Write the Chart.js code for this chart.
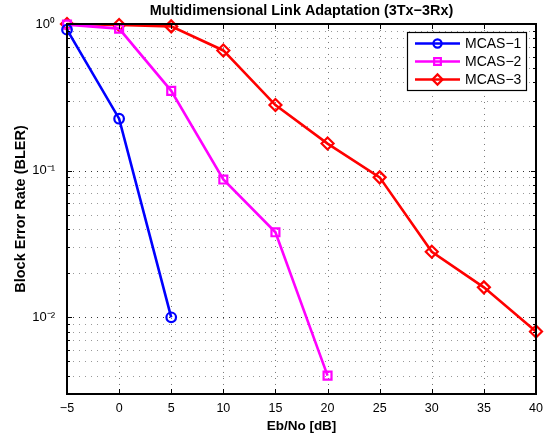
<!DOCTYPE html>
<html>
<head>
<meta charset="utf-8">
<script src="https://cdn.jsdelivr.net/npm/chart.js@4/dist/chart.umd.min.js"></script>
<style>
html,body{margin:0;padding:0;background:#fff;}
#wrap{width:553px;height:439px;}
</style>
</head>
<body>
<div id="wrap"><canvas id="c" width="553" height="439"></canvas></div>
<script>
// ---- data ----
const xValues = [-5, 0, 5, 10, 15, 20, 25, 30, 35, 40];
const seriesNames = ['MCAS\u22121', 'MCAS\u22122', 'MCAS\u22123'];
const mcas1 = [0.915, 0.226, 0.0100];
const mcas2 = [0.99, 0.93, 0.35, 0.087, 0.038, 0.0040];
const mcas3 = [1.0, 0.985, 0.963, 0.66, 0.28, 0.153, 0.090, 0.028, 0.016, 0.0080];
const xTickValues = [-5, 0, 5, 10, 15, 20, 25, 30, 35, 40];
const yTickValues = [0.003,0.004,0.005,0.006,0.007,0.008,0.009,
  0.01,0.02,0.03,0.04,0.05,0.06,0.07,0.08,0.09,
  0.1,0.2,0.3,0.4,0.5,0.6,0.7,0.8,0.9,1];
const yMajorLabels = {'1':'10\u2070','0.1':'10\u207B\u00B9','0.01':'10\u207B\u00B2'};

function pts(vals){ return vals.map((v,i)=>({x:xValues[i], y:v})); }

const FONT = "'Liberation Sans', Arial, Helvetica, sans-serif";

// draws dotted grid, frame and inward ticks (MATLAB style)
const matlabAxes = {
  id:'matlabAxes',
  afterLayout(chart){
    const t = chart.titleBlock, a = chart.chartArea;
    if (t && a) { t.left = a.left; t.right = a.right; t.width = a.right - a.left; }
  },
  beforeDatasetsDraw(chart){
    const {ctx, chartArea:a, scales:{x,y}} = chart;
    ctx.save();
    ctx.lineWidth = 1;
    ctx.setLineDash([1,5]);
    yTickValues.forEach(v=>{
      const py = Math.round(y.getPixelForValue(v))+0.5;
      const major = Math.abs(Math.log10(v)-Math.round(Math.log10(v)))<1e-9;
      ctx.strokeStyle = major ? '#333' : '#999';
      ctx.beginPath(); ctx.moveTo(a.left, py); ctx.lineTo(a.right, py); ctx.stroke();
    });
    ctx.strokeStyle = '#777';
    xTickValues.forEach(v=>{
      const px = Math.round(x.getPixelForValue(v))+0.5;
      ctx.beginPath(); ctx.moveTo(px, a.top); ctx.lineTo(px, a.bottom); ctx.stroke();
    });
    ctx.restore();
  },
  afterDatasetsDraw(chart){
    const {ctx, chartArea:a, scales:{x,y}} = chart;
    ctx.save();
    ctx.setLineDash([]);
    ctx.strokeStyle = '#000';
    ctx.lineWidth = 1;
    xTickValues.forEach(v=>{
      const px = Math.round(x.getPixelForValue(v))+0.5;
      ctx.beginPath();
      ctx.moveTo(px, a.bottom); ctx.lineTo(px, a.bottom-5);
      ctx.moveTo(px, a.top); ctx.lineTo(px, a.top+5);
      ctx.stroke();
    });
    yTickValues.forEach(v=>{
      const py = Math.round(y.getPixelForValue(v))+0.5;
      const major = Math.abs(Math.log10(v)-Math.round(Math.log10(v)))<1e-9;
      const L = major ? 5 : 3;
      ctx.beginPath();
      ctx.moveTo(a.left, py); ctx.lineTo(a.left+L, py);
      ctx.moveTo(a.right, py); ctx.lineTo(a.right-L, py);
      ctx.stroke();
    });
    ctx.lineWidth = 2;
    ctx.strokeRect(Math.round(a.left), Math.round(a.top), Math.round(a.right-a.left), Math.round(a.bottom-a.top));
    ctx.restore();
  },
  afterDraw(chart){
    const {ctx} = chart;
    const bx = 407, by = 32, bw = 119, bh = 58;
    ctx.save();
    ctx.fillStyle = '#fff';
    ctx.fillRect(bx, by, bw, bh);
    ctx.strokeStyle = '#000';
    ctx.lineWidth = 1.2;
    ctx.strokeRect(bx+0.5, by+0.5, bw, bh);
    chart.data.datasets.forEach((ds,i)=>{
      const yy = by + 11.5 + i*18;
      ctx.strokeStyle = ds.borderColor;
      ctx.lineWidth = ds.borderWidth;
      ctx.beginPath(); ctx.moveTo(bx+8, yy); ctx.lineTo(bx+53, yy); ctx.stroke();
      ctx.fillStyle = 'rgba(0,0,0,0)';
      ctx.lineWidth = ds.pointBorderWidth;
      Chart.helpers.drawPoint(ctx, {
        pointStyle: ds.pointStyle, radius: ds.pointRadius * 0.85, rotation: 0,
        borderWidth: ds.pointBorderWidth
      }, bx+30.5, yy);
      ctx.fillStyle = '#000';
      ctx.font = '14px ' + FONT;
      ctx.textBaseline = 'middle';
      ctx.textAlign = 'left';
      ctx.fillText(ds.label, bx+58, yy+0.5);
    });
    ctx.restore();
  }
};

function ds(label, vals, color, style, r){
  return {
    label, data: pts(vals),
    borderColor: color, backgroundColor: 'rgba(0,0,0,0)',
    pointBorderColor: color, pointBackgroundColor: 'rgba(0,0,0,0)',
    borderWidth: 2.6, pointStyle: style, pointRadius: r, pointBorderWidth: 2.2,
    pointHoverRadius: r, tension: 0
  };
}

new Chart(document.getElementById('c'), {
  type: 'line',
  data: {
    datasets: [
      ds(seriesNames[0], mcas1, '#0000ff', 'circle', 4.8),
      ds(seriesNames[1], mcas2, '#ff00ff', 'rect', 5.6),
      ds(seriesNames[2], mcas3, '#ff0000', 'rectRot', 6)
    ]
  },
  options: {
    responsive: false,
    devicePixelRatio: 1,
    animation: false,
    events: [],
    clip: false,
    layout: { padding: { left: 0, right: 17, top: 0, bottom: 0 } },
    plugins: {
      legend: { display: false },
      tooltip: { enabled: false },
      title: {
        display: true,
        text: 'Multidimensional Link Adaptation (3Tx\u22123Rx)',
        color: '#000',
        font: { family: FONT, size: 14.4, weight: 'bold' },
        padding: { top: 2, bottom: 4.7 }
      }
    },
    scales: {
      x: {
        type: 'linear', min: -5, max: 40,
        afterBuildTicks(s){ s.ticks = xTickValues.map(v=>({value:v})); },
        afterFit(s){ s.height = 45; },
        grid: { display: false, drawTicks: false },
        border: { display: false },
        ticks: {
          color: '#000', padding: 7, maxRotation: 0, autoSkip: false,
          font: { family: FONT, size: 12.5 },
          callback: v => String(v).replace('-', '\u2212')
        },
        title: {
          display: true, text: 'Eb/No [dB]', color: '#000',
          font: { family: FONT, size: 13.5, weight: 'bold' },
          padding: { top: 0, bottom: 4.5 }
        }
      },
      y: {
        type: 'logarithmic', min: 0.003, max: 1,
        afterBuildTicks(s){ s.ticks = yTickValues.map(v=>({value:v})); },
        afterFit(s){ s.width = 67; },
        grid: { display: false, drawTicks: false },
        border: { display: false },
        ticks: {
          color: '#000', padding: 12, autoSkip: false,
          font: { family: FONT, size: 13 },
          callback: v => {
            const k = String(Number(v.toPrecision(6)));
            return yMajorLabels[k] || '';
          }
        },
        title: {
          display: true, text: 'Block Error Rate (BLER)', color: '#000',
          font: { family: FONT, size: 14.5, weight: 'bold' },
          padding: { top: 12.3, bottom: 0 }
        }
      }
    }
  },
  plugins: [matlabAxes]
});
</script>
</body>
</html>
